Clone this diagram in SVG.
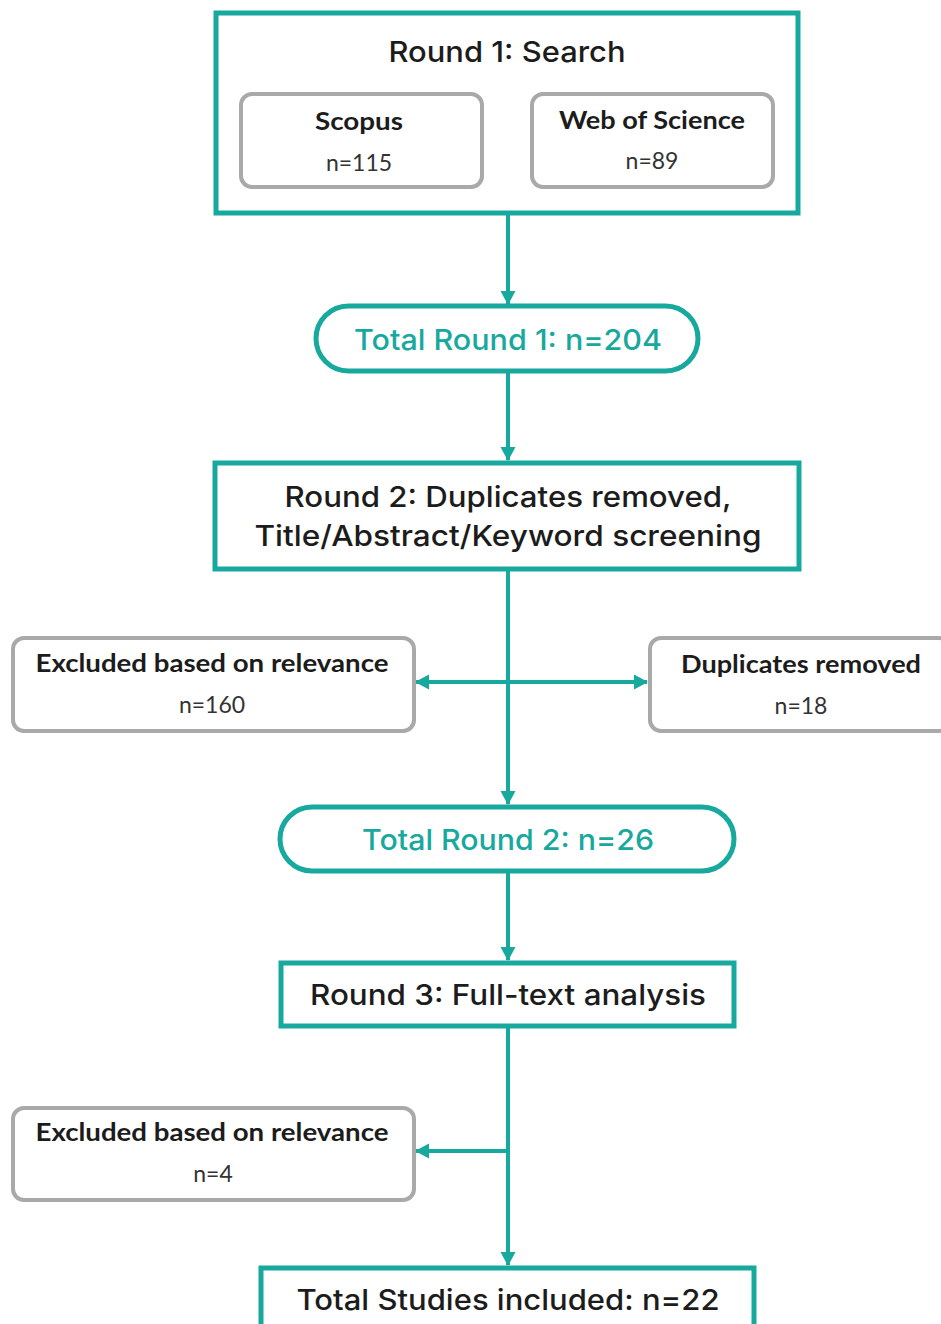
<svg xmlns="http://www.w3.org/2000/svg" width="941" height="1324" viewBox="0 0 941 1324">
<defs>
<style>
.main{fill:#fff;stroke:#17a89e;stroke-width:5}
.sub{fill:#fff;stroke:#a9a9a9;stroke-width:4}
.h{font-family:"Inter","Open Sans","Liberation Sans",sans-serif;font-weight:500;font-size:29px;fill:#1c1c1c;text-anchor:middle}
.t{font-family:"Inter","Open Sans","Liberation Sans",sans-serif;font-weight:500;font-size:29px;fill:#17a89e;text-anchor:middle}
.b{font-family:"Lato","Liberation Sans",sans-serif;font-weight:bold;font-size:24px;fill:#1c1c1c;text-anchor:middle}
.n{font-family:"Lato","Liberation Sans",sans-serif;font-size:23px;fill:#333;text-anchor:middle}
.c{fill:none;stroke:#17a89e;stroke-width:4}
</style>
<marker id="ah" markerUnits="userSpaceOnUse" markerWidth="18" markerHeight="18" refX="15" refY="9" orient="auto-start-reverse" viewBox="0 0 18 18">
<path d="M2,1.5 L16,9 L2,16.5 Z" fill="#17a89e"/>
</marker>
</defs>
<rect width="941" height="1324" fill="#fff"/>
<g id="connectors">
<line class="c" x1="508" y1="214" x2="508" y2="304" marker-end="url(#ah)"/>
<line class="c" x1="508" y1="371" x2="508" y2="460" marker-end="url(#ah)"/>
<line class="c" x1="508" y1="570" x2="508" y2="804" marker-end="url(#ah)"/>
<line class="c" x1="416" y1="682" x2="647" y2="682" marker-start="url(#ah)" marker-end="url(#ah)"/>
<line class="c" x1="508" y1="872" x2="508" y2="960" marker-end="url(#ah)"/>
<line class="c" x1="508" y1="1026" x2="508" y2="1265" marker-end="url(#ah)"/>
<line class="c" x1="508" y1="1151" x2="416" y2="1151" marker-end="url(#ah)"/>
</g>
<g id="round1">
<rect class="main" x="216" y="13" width="582" height="200"/>
<text class="h" x="507" y="62" textLength="237" lengthAdjust="spacingAndGlyphs">Round 1: Search</text>
</g>
<g id="scopus">
<rect class="sub" x="241" y="94" width="241" height="93" rx="11"/>
<text class="b" x="359" y="130" textLength="88" lengthAdjust="spacingAndGlyphs">Scopus</text>
<text class="n" x="359" y="171">n=115</text>
</g>
<g id="wos">
<rect class="sub" x="532" y="94" width="241" height="93" rx="11"/>
<text class="b" x="652" y="129" textLength="186" lengthAdjust="spacingAndGlyphs">Web of Science</text>
<text class="n" x="652" y="169">n=89</text>
</g>
<g id="total1">
<rect class="main" x="316" y="306" width="382" height="65" rx="32.5"/>
<text class="t" x="508" y="350" textLength="308" lengthAdjust="spacingAndGlyphs">Total Round 1: n=204</text>
</g>
<g id="round2">
<rect class="main" x="215" y="463" width="584" height="106"/>
<text class="h" x="508" y="507" textLength="447" lengthAdjust="spacingAndGlyphs">Round 2: Duplicates removed,</text>
<text class="h" x="508" y="546" textLength="507" lengthAdjust="spacingAndGlyphs">Title/Abstract/Keyword screening</text>
</g>
<g id="excluded1">
<rect class="sub" x="13" y="638" width="401" height="93" rx="11"/>
<text class="b" x="212" y="672" textLength="353" lengthAdjust="spacingAndGlyphs">Excluded based on relevance</text>
<text class="n" x="212" y="713">n=160</text>
</g>
<g id="duplicates">
<rect class="sub" x="650" y="638" width="300" height="93" rx="11"/>
<text class="b" x="801" y="673" textLength="240" lengthAdjust="spacingAndGlyphs">Duplicates removed</text>
<text class="n" x="801" y="714">n=18</text>
</g>
<g id="total2">
<rect class="main" x="280" y="807" width="454" height="64" rx="32"/>
<text class="t" x="508" y="850" textLength="292" lengthAdjust="spacingAndGlyphs">Total Round 2: n=26</text>
</g>
<g id="round3">
<rect class="main" x="281" y="963" width="453" height="63"/>
<text class="h" x="508" y="1005" textLength="396" lengthAdjust="spacingAndGlyphs">Round 3: Full-text analysis</text>
</g>
<g id="excluded2">
<rect class="sub" x="13" y="1108" width="401" height="92" rx="11"/>
<text class="b" x="212" y="1141" textLength="353" lengthAdjust="spacingAndGlyphs">Excluded based on relevance</text>
<text class="n" x="213" y="1182">n=4</text>
</g>
<g id="final">
<rect class="main" x="261" y="1268" width="493" height="70"/>
<text class="h" x="508" y="1310" textLength="423" lengthAdjust="spacingAndGlyphs">Total Studies included: n=22</text>
</g>
</svg>
